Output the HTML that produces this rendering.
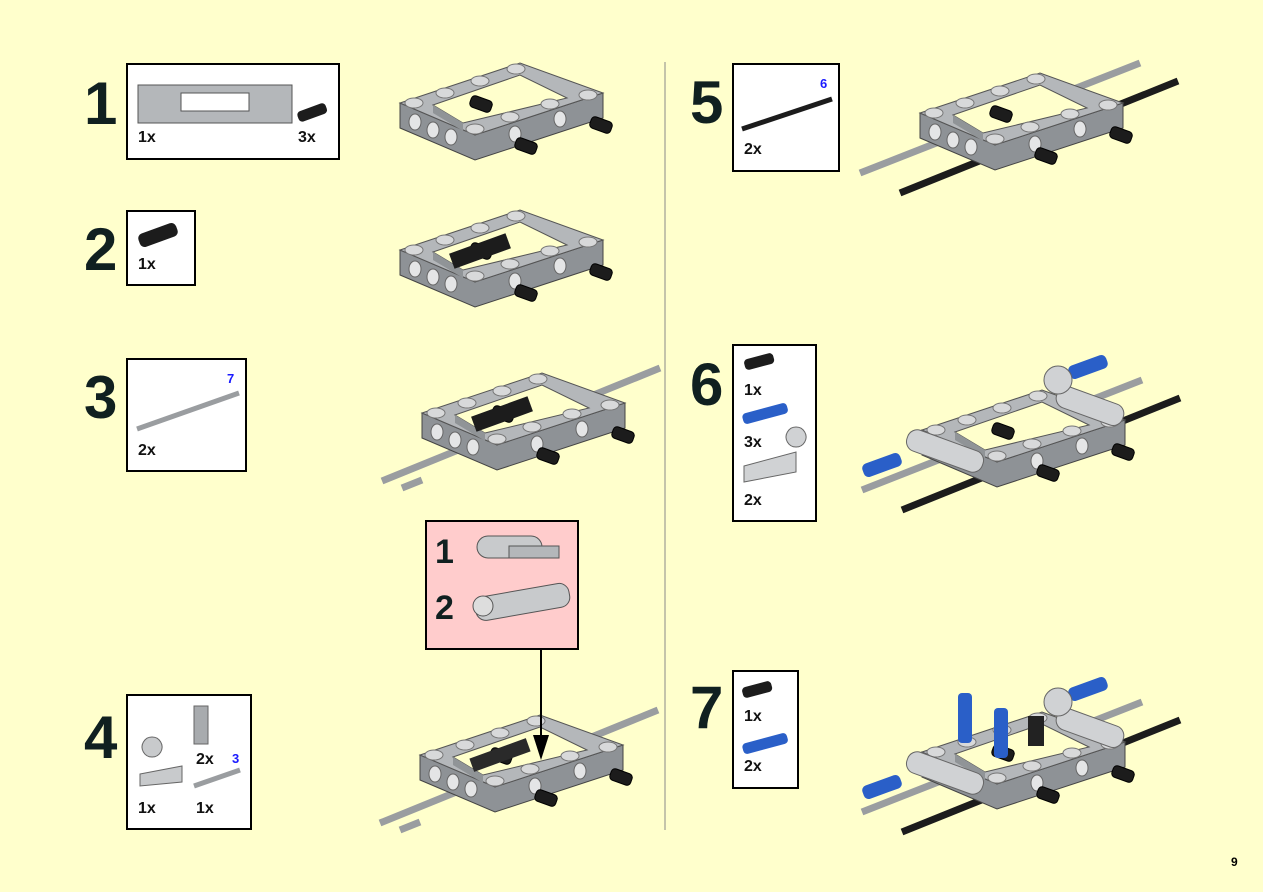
<!DOCTYPE html>
<html><head><meta charset="utf-8"><style>
html,body{margin:0;padding:0;}
body{width:1263px;height:892px;background:#ffffcc;position:relative;overflow:hidden;font-family:"Liberation Sans",Arial,sans-serif;}
.n{position:absolute;font-weight:bold;font-size:60px;color:#102020;line-height:60px;}
.b{position:absolute;background:#fff;border:2px solid #000;box-sizing:border-box;}
.t{position:absolute;font-weight:bold;font-size:16px;color:#111;}
.c{position:absolute;font-weight:bold;font-size:13px;color:#1a1aff;}
svg{position:absolute;left:0;top:0;}
</style></head><body>
<svg width="1263" height="892" viewBox="0 0 1263 892">
<defs>
<g id="frame">
<polygon points="0,0 0,25 75,57 203,15 203,-10 75,32" fill="#8e9296" stroke="#444" stroke-width="1"/>
<polygon points="0,0 120,-40 203,-10 75,32" fill="#b4b7ba" stroke="#555" stroke-width="1"/>
<polygon points="33,2 120,-28 167,-5 63,20" fill="#ffffcc" stroke="#555"/>
<polygon points="33,2 63,20 63,28 33,10" fill="#909497"/>
<g fill="#e4e5e6" stroke="#666"><ellipse cx="15" cy="19" rx="6" ry="8"/><ellipse cx="33" cy="27" rx="6" ry="8"/><ellipse cx="51" cy="34" rx="6" ry="8"/><ellipse cx="115" cy="31" rx="6" ry="8"/><ellipse cx="160" cy="16" rx="6" ry="8"/></g>
<g fill="#d8d9da" stroke="#777"><ellipse cx="14" cy="0" rx="9" ry="5"/><ellipse cx="45" cy="-10" rx="9" ry="5"/><ellipse cx="80" cy="-22" rx="9" ry="5"/><ellipse cx="116" cy="-34" rx="9" ry="5"/><ellipse cx="188" cy="-8" rx="9" ry="5"/><ellipse cx="75" cy="26" rx="9" ry="5"/><ellipse cx="110" cy="14" rx="9" ry="5"/><ellipse cx="150" cy="1" rx="9" ry="5"/></g>
</g>
<g id="pins">
<g fill="#1c1c1c" stroke="#000"><rect x="115" y="37" width="22" height="12" rx="4" transform="rotate(20 126 43)"/><rect x="190" y="16" width="22" height="12" rx="4" transform="rotate(20 201 22)"/><rect x="70" y="-5" width="22" height="12" rx="4" transform="rotate(20 81 1)"/></g>
</g>
<g id="axles">
<line x1="-40" y1="68" x2="238" y2="-45" stroke="#9a9da0" stroke-width="7"/>
<line x1="-20" y1="75" x2="0" y2="67" stroke="#9a9da0" stroke-width="7"/>
</g>
</defs>
<line x1="665" y1="62" x2="665" y2="830" stroke="#888" stroke-width="1"/>
<use href="#frame" x="400" y="103"/><use href="#pins" x="400" y="103"/>
<use href="#frame" x="400" y="250"/><use href="#pins" x="400" y="250"/>
<rect x="450" y="243" width="60" height="16" fill="#1c1c1c" transform="rotate(-20 480 251)"/>
<use href="#axles" x="422" y="413"/><use href="#frame" x="422" y="413"/><use href="#pins" x="422" y="413"/>
<rect x="472" y="406" width="60" height="16" fill="#1c1c1c" transform="rotate(-20 502 414)"/>
<use href="#axles" x="420" y="755"/><use href="#frame" x="420" y="755"/><use href="#pins" x="420" y="755"/>
<rect x="470" y="748" width="60" height="14" fill="#2a2a2a" transform="rotate(-20 500 755)"/>
<line x1="541" y1="649" x2="541" y2="745" stroke="#000" stroke-width="2"/>
<polygon points="533,735 549,735 541,760" fill="#000"/>
<g transform="translate(920,113)"><line x1="-60" y1="60" x2="220" y2="-50" stroke="#9a9da0" stroke-width="7"/><line x1="-20" y1="80" x2="258" y2="-32" stroke="#1c1c1c" stroke-width="7"/></g>
<use href="#frame" x="920" y="113"/><use href="#pins" x="920" y="113"/>
<g transform="translate(922,430)"><line x1="-60" y1="60" x2="220" y2="-50" stroke="#9a9da0" stroke-width="7"/><line x1="-20" y1="80" x2="258" y2="-32" stroke="#1c1c1c" stroke-width="7"/></g>
<use href="#frame" x="922" y="430"/><use href="#pins" x="922" y="430"/>
<g fill="#2a5fc8"><rect x="1068" y="360" width="40" height="14" rx="5" transform="rotate(-20 1088 367)"/><rect x="862" y="458" width="40" height="14" rx="5" transform="rotate(-20 882 465)"/></g>
<g fill="#d0d2d4" stroke="#666"><rect x="905" y="440" width="80" height="22" rx="10" transform="rotate(20 945 451)"/><rect x="1055" y="395" width="70" height="22" rx="10" transform="rotate(20 1090 406)"/><circle cx="1058" cy="380" r="14"/></g>
<g transform="translate(922,752)"><line x1="-60" y1="60" x2="220" y2="-50" stroke="#9a9da0" stroke-width="7"/><line x1="-20" y1="80" x2="258" y2="-32" stroke="#1c1c1c" stroke-width="7"/></g>
<use href="#frame" x="922" y="752"/><use href="#pins" x="922" y="752"/>
<g fill="#2a5fc8"><rect x="1068" y="682" width="40" height="14" rx="5" transform="rotate(-20 1088 689)"/><rect x="862" y="780" width="40" height="14" rx="5" transform="rotate(-20 882 787)"/><rect x="958" y="693" width="14" height="50" rx="4"/><rect x="994" y="708" width="14" height="50" rx="4"/></g>
<rect x="1028" y="716" width="16" height="30" fill="#222"/>
<g fill="#d0d2d4" stroke="#666"><rect x="905" y="762" width="80" height="22" rx="10" transform="rotate(20 945 773)"/><rect x="1055" y="717" width="70" height="22" rx="10" transform="rotate(20 1090 728)"/><circle cx="1058" cy="702" r="14"/></g>
</svg>

<div class="n" style="left:84px;top:74px">1</div>
<div class="b" style="left:126px;top:63px;width:214px;height:97px">
<svg width="160" height="50" style="left:8px;top:14px"><polygon points="2,6 156,6 156,44 2,44" fill="#b4b7ba" stroke="#555"/><rect x="45" y="14" width="68" height="18" fill="#fff" stroke="#555"/></svg>
<svg width="40" height="25" style="left:166px;top:36px"><rect x="3" y="6" width="30" height="11" rx="4" fill="#1c1c1c" transform="rotate(-20 18 11)"/></svg>
<div class="t" style="left:10px;top:64px">1x</div><div class="t" style="left:170px;top:64px">3x</div></div>

<div class="n" style="left:84px;top:220px">2</div>
<div class="b" style="left:126px;top:210px;width:70px;height:76px">
<svg width="50" height="30" style="left:6px;top:8px"><rect x="4" y="8" width="40" height="14" rx="5" fill="#1c1c1c" transform="rotate(-20 24 15)"/></svg>
<div class="t" style="left:10px;top:44px">1x</div></div>

<div class="n" style="left:84px;top:368px">3</div>
<div class="b" style="left:126px;top:358px;width:121px;height:114px">
<svg width="110" height="50" style="left:5px;top:25px"><line x1="4" y1="44" x2="106" y2="8" stroke="#9a9da0" stroke-width="5"/></svg>
<div class="c" style="left:99px;top:11px">7</div>
<div class="t" style="left:10px;top:82px">2x</div></div>

<div class="n" style="left:84px;top:708px">4</div>
<div class="b" style="left:126px;top:694px;width:126px;height:136px">
<svg width="120" height="100" style="left:4px;top:6px"><rect x="62" y="4" width="14" height="38" fill="#a8abae" stroke="#666"/><path d="M8,72 L50,64 L50,80 L8,84Z M20,55 a10,10 0 1 1 0.1,0Z" fill="#c8cacc" stroke="#666"/><line x1="62" y1="84" x2="108" y2="68" stroke="#9a9da0" stroke-width="5"/></svg>
<div class="t" style="left:68px;top:55px">2x</div><div class="c" style="left:104px;top:55px">3</div>
<div class="t" style="left:10px;top:104px">1x</div><div class="t" style="left:68px;top:104px">1x</div></div>

<div class="b" style="left:425px;top:520px;width:154px;height:130px;background:#ffcccc">
<div class="n" style="left:8px;top:12px;font-size:34px;line-height:36px">1</div>
<div class="n" style="left:8px;top:68px;font-size:34px;line-height:36px">2</div>
<svg width="110" height="100" style="left:40px;top:6px"><rect x="10" y="8" width="65" height="22" rx="11" fill="#c8cacc" stroke="#555"/><rect x="42" y="18" width="50" height="12" fill="#b4b7ba" stroke="#555"/><rect x="8" y="62" width="95" height="24" rx="10" fill="#c8cacc" stroke="#555" transform="rotate(-10 55 74)"/><circle cx="16" cy="78" r="10" fill="#ddd" stroke="#555"/></svg>
</div>

<div class="n" style="left:690px;top:73px">5</div>
<div class="b" style="left:732px;top:63px;width:108px;height:109px">
<svg width="100" height="40" style="left:4px;top:30px"><line x1="4" y1="34" x2="94" y2="4" stroke="#1c1c1c" stroke-width="5"/></svg>
<div class="c" style="left:86px;top:11px">6</div>
<div class="t" style="left:10px;top:76px">2x</div></div>

<div class="n" style="left:690px;top:355px">6</div>
<div class="b" style="left:732px;top:344px;width:85px;height:178px">
<svg width="80" height="150" style="left:2px;top:6px"><rect x="8" y="4" width="30" height="11" rx="4" fill="#1c1c1c" transform="rotate(-15 23 9)"/><rect x="6" y="56" width="46" height="11" rx="4" fill="#2a5fc8" transform="rotate(-15 29 61)"/><path d="M8,114 L60,100 L60,120 L8,130Z M60,95 a10,10 0 1 1 0.1,0Z" fill="#d0d2d4" stroke="#666"/></svg>
<div class="t" style="left:10px;top:36px">1x</div><div class="t" style="left:10px;top:88px">3x</div><div class="t" style="left:10px;top:146px">2x</div></div>

<div class="n" style="left:690px;top:678px">7</div>
<div class="b" style="left:732px;top:670px;width:67px;height:119px">
<svg width="60" height="80" style="left:2px;top:8px"><rect x="6" y="4" width="30" height="11" rx="4" fill="#1c1c1c" transform="rotate(-15 21 9)"/><rect x="6" y="58" width="46" height="11" rx="4" fill="#2a5fc8" transform="rotate(-15 29 63)"/></svg>
<div class="t" style="left:10px;top:36px">1x</div><div class="t" style="left:10px;top:86px">2x</div></div>

<div style="position:absolute;left:1231px;top:855px;font-weight:bold;font-size:12px;">9</div>
</body></html>
